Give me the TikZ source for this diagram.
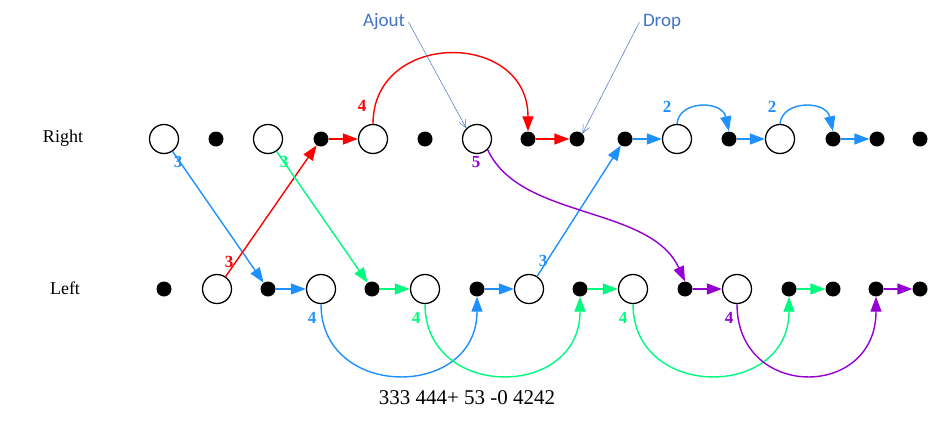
\documentclass[tikz,border=0pt]{standalone}
\usepackage{fontspec}
\setmainfont{Liberation Serif}
\newfontfamily\annfont{Carlito}
\usetikzlibrary{arrows.meta}
\definecolor{cb}{RGB}{30,144,255}
\definecolor{cg}{RGB}{0,250,127}
\definecolor{cp}{RGB}{148,0,211}
\definecolor{cr}{RGB}{255,0,0}
\definecolor{ann}{RGB}{68,114,196}
\begin{document}
\begin{tikzpicture}[x=1pt,y=-1pt,
 circ/.style={circle,draw,line width=1.3pt,minimum size=29pt,inner sep=0pt},
 dotn/.style={circle,fill=black,minimum size=15pt,inner sep=0pt},
 edge/.style={line width=1.4pt,-{Triangle[length=15pt,width=11pt]}},
 lab/.style={font=\fontsize{17}{17}\selectfont\bfseries},
 rowlab/.style={font=\fontsize{18}{18}\selectfont},
 annt/.style={font=\annfont\fontsize{19}{19}\selectfont,text=ann},
 annl/.style={draw=ann,line width=0.5pt,-{Straight Barb[length=8pt,width=7pt]}}]
\useasboundingbox (0,0) rectangle (936,433);
% Right row
\node[circ] (r1) at (164,139) {};
\node[dotn] (r2) at (216,139) {};
\node[circ] (r3) at (268,139) {};
\node[dotn] (r4) at (321,139) {};
\node[circ] (r5) at (373,139) {};
\node[dotn] (r6) at (425,139) {};
\node[circ] (r7) at (477,139) {};
\node[dotn] (r8) at (528,139) {};
\node[dotn] (r9) at (577,139) {};
\node[dotn] (r10) at (625,139) {};
\node[circ] (r11) at (677,139) {};
\node[dotn] (r12) at (729,139) {};
\node[circ] (r13) at (780,139) {};
\node[dotn] (r14) at (833,139) {};
\node[dotn] (r15) at (877,139) {};
\node[dotn] (r16) at (920,139) {};
% Left row
\node[dotn] (l1) at (164,289) {};
\node[circ] (l2) at (217,289) {};
\node[dotn] (l3) at (268,289) {};
\node[circ] (l4) at (321,289) {};
\node[dotn] (l5) at (372,289) {};
\node[circ] (l6) at (425,289) {};
\node[dotn] (l7) at (477,289) {};
\node[circ] (l8) at (529,289) {};
\node[dotn] (l9) at (580,289) {};
\node[circ] (l10) at (633,289) {};
\node[dotn] (l11) at (685,289) {};
\node[circ] (l12) at (737,289) {};
\node[dotn] (l13) at (789,289) {};
\node[dotn] (l14) at (833,289) {};
\node[dotn] (l15) at (876,289) {};
\node[dotn] (l16) at (920,289) {};
\node[rowlab] (tr) at (63,138) {Right};
\node[rowlab] (tl) at (65,288) {Left};
\node[font=\fontsize{21}{21}\selectfont] (bt) at (467,398) {333 444+ 53 -0 4242};
% blue
\draw[edge,cb] (r1) -- (l3);
\draw[edge,cb] (l3) -- (l4);
\draw[edge,cb] (l4.south) .. controls (321,400) and (477,400) .. (l7.south);
\draw[edge,cb] (l7) -- (l8);
\draw[edge,cb] (l8) -- (r10);
\draw[edge,cb] (r10) -- (r11);
\draw[edge,cb] (r11.north) .. controls (679,100) and (722,100) .. (r12.north);
\draw[edge,cb] (r12) -- (r13);
\draw[edge,cb] (r13.north) .. controls (782,100) and (826,100) .. (r14.north);
\draw[edge,cb] (r14) -- (r15);
% red
\draw[edge,cr] (l2) -- (r4);
\draw[edge,cr] (r4) -- (r5);
\draw[edge,cr] (r5.north) .. controls (373,30) and (528,30) .. (r8.north);
\draw[edge,cr] (r8) -- (r9);
% green
\draw[edge,cg] (r3) -- (l5);
\draw[edge,cg] (l5) -- (l6);
\draw[edge,cg] (l6.south) .. controls (425,400) and (580,400) .. (l9.south);
\draw[edge,cg] (l9) -- (l10);
\draw[edge,cg] (l10.south) .. controls (633,400) and (789,400) .. (l13.south);
\draw[edge,cg] (l13) -- (l14);
% purple
\draw[edge,cp] (r7.south east) .. controls (520,220) and (650,205) .. (l11.north);
\draw[edge,cp] (l11) -- (l12);
\draw[edge,cp] (l12.south) .. controls (737,400) and (876,400) .. (l15.south);
\draw[edge,cp] (l15) -- (l16);
% labels
\node[lab,text=cb] (n1) at (178,162) {3};
\node[lab,text=cg] (n2) at (284,162) {3};
\node[lab,text=cr] (n3) at (229,262) {3};
\node[lab,text=cr] (n4) at (362,106) {4};
\node[lab,text=cp] (n5) at (476,162) {5};
\node[lab,text=cb] (n6) at (543,261) {3};
\node[lab,text=cb] (n7) at (312,318) {4};
\node[lab,text=cg] (n8) at (416,318) {4};
\node[lab,text=cg] (n9) at (623,318) {4};
\node[lab,text=cp] (n10) at (729,318) {4};
\node[lab,text=cb] (n11) at (667,107) {2};
\node[lab,text=cb] (n12) at (772,107) {2};
% annotations
\node[annt] (aj) at (384,22) {Ajout};
\node[annt] (dr) at (662,22) {Drop};
\draw[annl] (aj.east) -- (r7.north west);
\draw[annl] (dr.west) -- (r9.north east);
\end{tikzpicture}
\end{document}
